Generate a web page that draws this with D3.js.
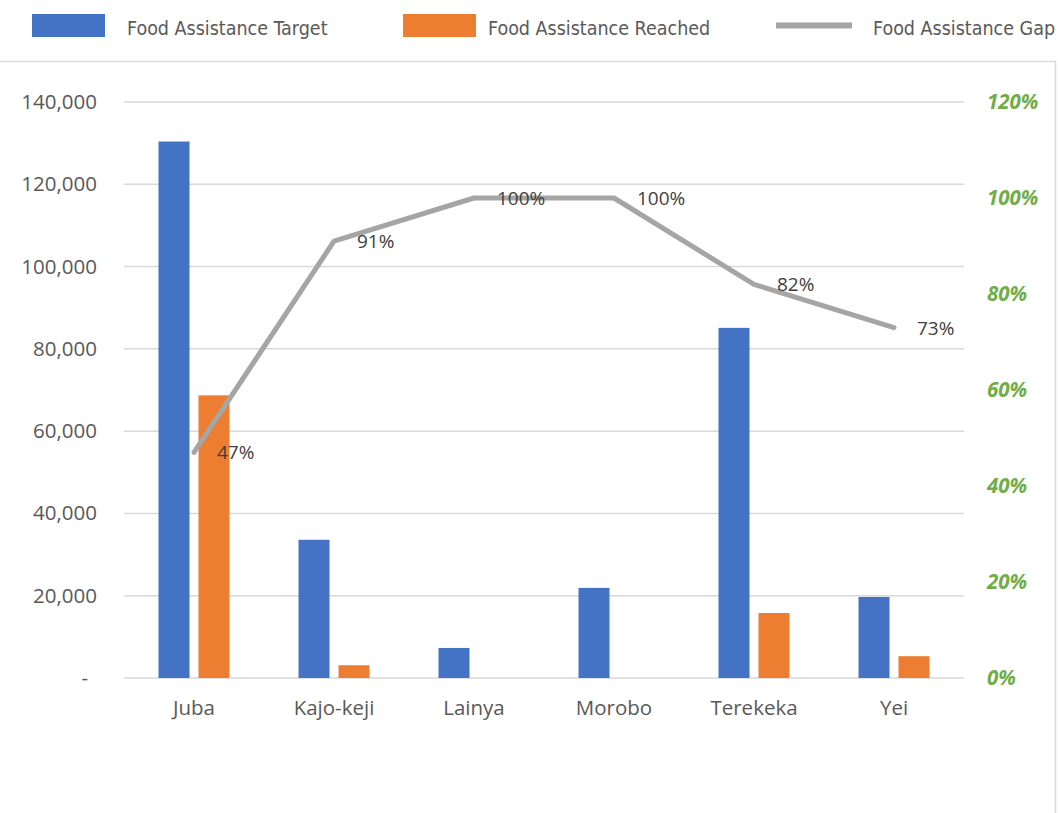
<!DOCTYPE html>
<html>
<head>
<meta charset="utf-8">
<script src="https://cdn.jsdelivr.net/npm/d3@7"></script>
<style>
  html, body { margin: 0; padding: 0; background: #fff; }
  svg { display: block; }
</style>
</head>
<body>
<svg id="chart" width="1058" height="813"></svg>
<script>
const categories = ["Juba", "Kajo-keji", "Lainya", "Morobo", "Terekeka", "Yei"];
const targetValues = [130400, 33600, 7300, 21900, 85100, 19700];
const reachedValues = [68700, 3100, 0, 0, 15800, 5300];
const gapValues = [0.47, 0.91, 1.00, 1.00, 0.82, 0.73];
const gapLabels = ["47%", "91%", "100%", "100%", "82%", "73%"];
const leftTicks = [0, 20000, 40000, 60000, 80000, 100000, 120000, 140000];
const rightTicks = [0, 0.2, 0.4, 0.6, 0.8, 1.0, 1.2];
const seriesNames = ["Food Assistance Target", "Food Assistance Reached", "Food Assistance Gap"];

const svg = d3.select("#chart");
const W = 1058, H = 813;
const plot = { left: 124, right: 964, top: 102, bottom: 678 };

const x = d3.scaleBand().domain(categories).range([plot.left, plot.right]).paddingInner(0).paddingOuter(0);
const inner = d3.scaleBand().domain(["t", "r"]).range([0, 71]).paddingInner(0.225);
const yL = d3.scaleLinear().domain([0, 140000]).range([plot.bottom, plot.top]);
const yR = d3.scaleLinear().domain([0, 1.2]).range([plot.bottom, plot.top]);

const tickColor = "#595959";
const font = "'Open Sans', 'Noto Sans', sans-serif";

// frame
svg.append("path")
  .attr("d", `M0,61.5 H1055.5 V${H}`)
  .attr("fill", "none").attr("stroke", "#d9d9d9").attr("stroke-width", 1.5);

// gridlines
svg.append("g").selectAll("line").data(leftTicks).join("line")
  .attr("x1", plot.left).attr("x2", plot.right)
  .attr("y1", d => yL(d)).attr("y2", d => yL(d))
  .attr("stroke", "#d9d9d9").attr("stroke-width", 1.5);

// left axis
const axL = d3.axisLeft(yL).tickValues(leftTicks).tickSize(0).tickPadding(0)
  .tickFormat(d => d === 0 ? "-" : d3.format(",")(d));
const gL = svg.append("g").attr("transform", `translate(97,0)`).call(axL);
gL.select(".domain").remove();
gL.selectAll("text").attr("fill", tickColor).style("font-family", font).style("font-size", "20.5px")
  .attr("x", d => d === 0 ? -9 : 0);

// right axis
const axR = d3.axisRight(yR).tickValues(rightTicks).tickSize(0).tickPadding(0)
  .tickFormat(d3.format(".0%"));
const gR = svg.append("g").attr("transform", `translate(987,0)`).call(axR);
gR.select(".domain").remove();
gR.selectAll("text").attr("fill", "#70AD47").style("font-family", font).style("font-size", "20.5px")
  .style("font-weight", "bold").style("font-style", "italic");

// bottom axis
const axB = d3.axisBottom(x).tickSize(0).tickPadding(0);
const gB = svg.append("g").attr("transform", `translate(0,${plot.bottom + 22})`).call(axB);
gB.select(".domain").remove();
gB.selectAll("text").attr("fill", tickColor).style("font-family", font).style("font-size", "20.5px");

// bars
const groupOffset = (x.bandwidth() - 71) / 2;
const bars = svg.append("g");
bars.selectAll("rect.t").data(categories).join("rect").attr("class", "t")
  .attr("x", d => x(d) + groupOffset + inner("t"))
  .attr("width", inner.bandwidth())
  .attr("y", (d, i) => yL(targetValues[i]))
  .attr("height", (d, i) => yL(0) - yL(targetValues[i]))
  .attr("fill", "#4472C4");
bars.selectAll("rect.r").data(categories).join("rect").attr("class", "r")
  .attr("x", d => x(d) + groupOffset + inner("r"))
  .attr("width", inner.bandwidth())
  .attr("y", (d, i) => yL(reachedValues[i]))
  .attr("height", (d, i) => yL(0) - yL(reachedValues[i]))
  .attr("fill", "#ED7D31");

// gap line
const cx = d => x(d) + x.bandwidth() / 2;
const line = d3.line().x((d, i) => cx(categories[i])).y(d => yR(d));
svg.append("path").datum(gapValues)
  .attr("d", line)
  .attr("fill", "none").attr("stroke", "#A5A5A5").attr("stroke-width", 5)
  .attr("stroke-linejoin", "round").attr("stroke-linecap", "round");

svg.append("g").selectAll("text").data(gapLabels).join("text")
  .attr("x", (d, i) => cx(categories[i]) + 23)
  .attr("y", (d, i) => yR(gapValues[i]) + 2)
  .attr("dominant-baseline", "middle")
  .attr("fill", "#404040").style("font-family", font).style("font-size", "19px")
  .text(d => d);

// legend
const lg = svg.append("g");
const legendFont = "'Liberation Sans Narrow', 'DejaVu Sans Condensed', sans-serif";
const legendItems = [
  { name: seriesNames[0], type: "rect", color: "#4472C4", sx: 32, tx: 127 },
  { name: seriesNames[1], type: "rect", color: "#ED7D31", sx: 403, tx: 488 },
  { name: seriesNames[2], type: "line", color: "#A5A5A5", sx: 776, tx: 873 }
];
legendItems.forEach(it => {
  if (it.type === "rect") {
    lg.append("rect").attr("x", it.sx).attr("y", 14).attr("width", 73).attr("height", 23).attr("fill", it.color);
  } else {
    lg.append("line").attr("x1", it.sx).attr("x2", it.sx + 76).attr("y1", 25.5).attr("y2", 25.5)
      .attr("stroke", it.color).attr("stroke-width", 6);
  }
  lg.append("text").attr("x", it.tx).attr("y", 29).attr("dominant-baseline", "middle")
    .attr("fill", tickColor).style("font-family", legendFont).style("font-size", "19.5px")
    .text(it.name);
});
</script>
</body>
</html>
